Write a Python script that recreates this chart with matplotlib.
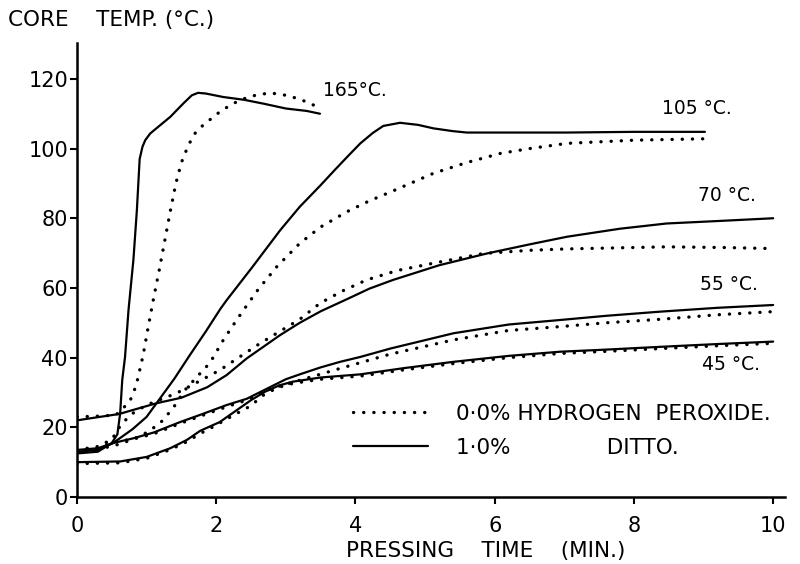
import matplotlib
matplotlib.use("Agg")
import matplotlib.pyplot as plt
from matplotlib.lines import Line2D

plt.rcParams['font.family'] = ['DejaVu Sans']

# ---- data (time in min, core temperature in deg C) ----
x165_s = [0, 0.3, 0.5, 0.58, 0.62, 0.65, 0.69, 0.74, 0.81, 0.86, 0.9, 0.94, 0.98, 1.05, 1.14, 1.34, 1.53, 1.65, 1.74, 1.85, 2.1, 2.4, 2.7, 3.0, 3.3, 3.49]
y165_s = [12.5, 13, 15.5, 18, 24, 33.6, 40.2, 53.7, 68, 82.3, 97, 100.5, 102.4, 104.3, 105.8, 109.1, 113, 115.3, 116, 115.8, 114.8, 114, 112.8, 111.5, 110.8, 110]
x165_d = [0, 0.3, 0.55, 0.62, 0.7, 0.76, 0.85, 0.95, 1.02, 1.1, 1.18, 1.26, 1.34, 1.42, 1.5, 1.6, 1.7, 1.81, 2.08, 2.3, 2.49, 2.77, 3.0, 3.2, 3.5]
y165_d = [23, 23.2, 23.5, 24.5, 26.3, 27.5, 32, 40.7, 48.5, 57, 65, 73.5, 82, 90, 96, 101, 104.5, 106.7, 111, 113.5, 115, 116, 115.3, 114.2, 111.6]

x105_s = [0, 0.3, 0.52, 0.8, 1.0, 1.2, 1.4, 1.62, 1.85, 2.06, 2.15, 2.5, 2.92, 3.2, 3.5, 3.7, 3.9, 4.07, 4.25, 4.4, 4.64, 4.9, 5.12, 5.4, 5.6, 6.5, 7.04, 8.0, 9.02]
y105_s = [13.5, 14, 15.5, 19.5, 23, 28.5, 34, 40.7, 47.5, 54, 56.5, 65.5, 76.6, 83.3, 89.5, 93.8, 98, 101.5, 104.5, 106.5, 107.4, 106.8, 105.8, 105, 104.6, 104.6, 104.6, 104.8, 104.8]
x105_d = [0, 0.5, 0.8, 1.0, 1.19, 1.38, 1.55, 1.77, 1.91, 2.1, 2.3, 2.44, 2.6, 2.87, 3.2, 3.5, 3.88, 4.2, 4.5, 5.12, 5.6, 6.08, 6.5, 7.04, 8.0, 9.0]
y105_d = [13, 14.5, 16.5, 18.5, 21.1, 25.5, 30.7, 35.5, 38.5, 45, 51, 55, 59.5, 66.1, 72.8, 77.5, 81.9, 85, 87.5, 92.9, 96, 98.6, 100, 101.5, 102.4, 102.8]

x70_s = [0, 0.33, 0.6, 1.14, 1.5, 1.87, 2.15, 2.44, 2.92, 3.2, 3.5, 3.88, 4.2, 4.54, 5.2, 5.89, 6.5, 7.04, 7.8, 8.47, 9.2, 10.0]
y70_s = [22, 23, 23.8, 26.9, 28.5, 31.5, 35, 39.8, 46.5, 50, 53.3, 56.8, 59.8, 62.3, 66.5, 69.9, 72.5, 74.7, 77, 78.5, 79.2, 80]
x70_d = [0, 0.3, 0.5, 0.64, 0.8, 1.0, 1.43, 1.65, 2.05, 2.63, 3.2, 3.49, 3.8, 4.16, 4.6, 5.12, 5.84, 6.5, 7.04, 8.47, 9.3, 10.0]
y70_d = [13.5, 14.5, 16.5, 21, 24, 26.4, 29.8, 32.1, 36.4, 44.1, 51, 55.6, 59, 62.3, 65, 67.1, 69.9, 70.8, 71.2, 71.8, 71.6, 71.3]

x55_s = [0, 0.3, 0.52, 0.8, 1.1, 1.48, 1.8, 2.15, 2.44, 2.8, 3.0, 3.2, 3.5, 3.78, 4.07, 4.5, 5.41, 6.2, 6.94, 7.6, 8.38, 9.2, 10.0]
y55_s = [13, 13.5, 15.5, 16.8, 18.5, 21.5, 23.8, 26.4, 28.2, 31.8, 33.8, 35.2, 37.2, 38.8, 40.2, 42.6, 47, 49.5, 50.8, 52, 53.2, 54.3, 55.1]
x55_d = [0, 0.3, 0.52, 0.8, 1.1, 1.48, 1.8, 2.15, 2.44, 2.8, 3.25, 3.78, 4.5, 5.41, 6.2, 6.94, 7.6, 8.38, 9.2, 10.0]
y55_d = [13.5, 14, 15.8, 16.6, 18.1, 21.1, 23.4, 25.9, 27.8, 31.2, 33.8, 36.9, 41, 45.1, 47.8, 48.9, 50, 51, 52.3, 53.2]

x45_s = [0, 0.62, 1.0, 1.34, 1.58, 1.77, 2.05, 2.3, 2.5, 2.7, 2.9, 3.1, 3.5, 4.07, 4.7, 5.41, 6.2, 6.94, 7.6, 8.38, 9.2, 10.0]
y45_s = [10, 10.2, 11.5, 14, 16.4, 19, 21.5, 25, 27.8, 30.2, 32, 33.1, 34.3, 35.2, 37, 38.8, 40.5, 41.7, 42.3, 43.1, 43.9, 44.6]
x45_d = [0, 0.62, 1.0, 1.34, 1.58, 1.77, 1.96, 2.25, 2.49, 2.7, 2.9, 3.1, 3.5, 4.07, 4.7, 5.41, 6.2, 6.94, 7.6, 8.38, 9.2, 10.0]
y45_d = [9.6, 9.8, 11.1, 13.6, 15.9, 18.2, 20.2, 23.5, 26.1, 29.6, 31.5, 32.6, 33.8, 34.7, 36.5, 38.3, 40.0, 41.2, 41.8, 42.6, 43.4, 44.1]

curve_labels = ["165°C.", "105 °C.", "70 °C.", "55 °C.", "45 °C."]
label_pos = [(3.53, 116.8), (8.4, 111.6), (8.92, 86.4), (8.95, 61.1), (8.98, 37.9)]

xticks = [0, 2, 4, 6, 8, 10]
yticks = [0, 20, 40, 60, 80, 100, 120]

legend_labels = ["0·0% HYDROGEN  PEROXIDE.", "1·0%" + " " * 14 + "DITTO."]

# ---- figure ----
fig = plt.figure(figsize=(8.0, 5.64), dpi=100)
ax = fig.add_axes([77 / 800, 1 - 497 / 564, (785 - 77) / 800, (497 - 43) / 564])
ax.set_xlim(0, 10.17)
ax.set_ylim(0, 130.3)

solid_kw = dict(color='black', linewidth=1.6, solid_capstyle='round', solid_joinstyle='round')
dot_kw = dict(color='black', linewidth=2.4, linestyle=(0, (0.05, 3.0)), dash_capstyle='round')

series = [(x165_s, y165_s, x165_d, y165_d), (x105_s, y105_s, x105_d, y105_d),
          (x70_s, y70_s, x70_d, y70_d), (x55_s, y55_s, x55_d, y55_d),
          (x45_s, y45_s, x45_d, y45_d)]
for xs, ys, xd, yd in series:
    ax.plot(xs, ys, **solid_kw)
    ax.plot(xd, yd, **dot_kw)

for lab, (lx, ly) in zip(curve_labels, label_pos):
    ax.text(lx, ly, lab, fontsize=13.5, ha='left', va='center')

for s in ['top', 'right']:
    ax.spines[s].set_visible(False)
for s in ['left', 'bottom']:
    ax.spines[s].set_linewidth(1.8)

ax.set_xticks(xticks)
ax.set_yticks(yticks)
ax.set_xticklabels([str(t) for t in xticks], fontsize=15)
ax.set_yticklabels([str(t) for t in yticks], fontsize=15)
ax.tick_params(axis='both', direction='out', length=5, width=1.5)
ax.tick_params(axis='y', pad=1.5)
ax.tick_params(axis='x', pad=8.5)

fs = 15.5
handles = [Line2D([], [], **dot_kw), Line2D([], [], **solid_kw)]
ax.legend(handles, legend_labels, loc='upper left', bbox_to_anchor=((353 - 77) / 708, 1 - (404 - 43) / 454),
          frameon=False, fontsize=fs, handlelength=3.5, handletextpad=1.3, labelspacing=0.65,
          borderaxespad=0, borderpad=0)

fig.text(8 / 800, 1 - 20 / 564, "CORE    TEMP. (°C.)", fontsize=fs, ha='left', va='center')
fig.text(486 / 800, 1 - 551 / 564, "PRESSING    TIME    (MIN.)", fontsize=fs, ha='center', va='center')

fig.savefig("out.png", dpi=100)
